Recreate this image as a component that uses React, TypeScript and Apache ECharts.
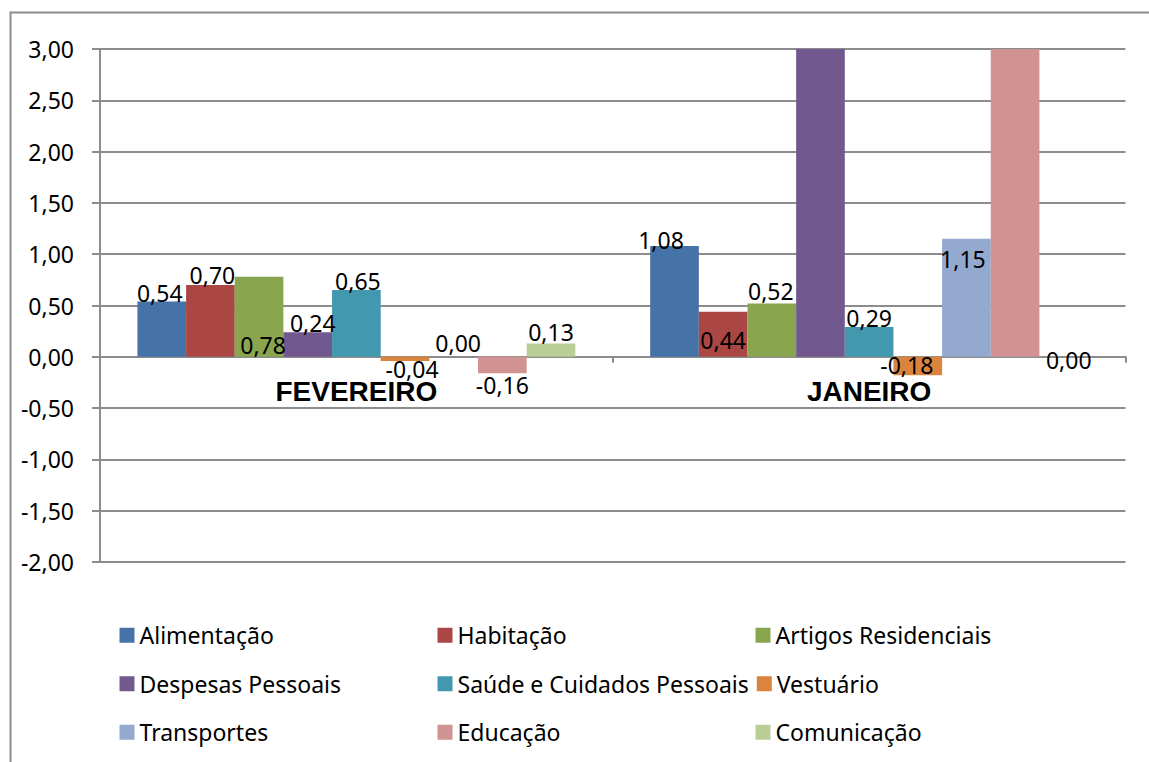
import React, { useEffect, useRef } from "react";
import * as echarts from "echarts";

const categories = ["FEVEREIRO", "JANEIRO"];
const seriesNames = [
  "Alimentação",
  "Habitação",
  "Artigos Residenciais",
  "Despesas Pessoais",
  "Saúde e Cuidados Pessoais",
  "Vestuário",
  "Transportes",
  "Educação",
  "Comunicação",
];
const alimentacao = [0.54, 1.08];
const habitacao = [0.7, 0.44];
const artigosResidenciais = [0.78, 0.52];
const despesasPessoais = [0.24, 3.6];
const saudeCuidados = [0.65, 0.29];
const vestuario = [-0.04, -0.18];
const transportes = [0.0, 1.15];
const educacao = [-0.16, 3.9];
const comunicacao = [0.13, 0.0];
const seriesValues = [
  alimentacao,
  habitacao,
  artigosResidenciais,
  despesasPessoais,
  saudeCuidados,
  vestuario,
  transportes,
  educacao,
  comunicacao,
];
const yMin = -2;
const yMax = 3;
const yInterval = 0.5;

const colors = [
  "#4572A7",
  "#AA4643",
  "#89A54E",
  "#71588F",
  "#4198AF",
  "#DB843D",
  "#93A9CF",
  "#D19392",
  "#B9CD96",
];

// label placement per series: [FEVEREIRO, JANEIRO] -> [position, distance, dx, dy]
type LP = [string, number, number, number] | null;
const labelPlacement: LP[][] = [
  [["top", 0.5, -2, 0], ["top", -2, -13.5, 0]],
  [["top", 1.5, 2, 0], ["insideBottom", 8.5, 0, 0]],
  [["insideBottom", 3.5, 4, 0], ["top", 4.5, -1, 0]],
  [["top", 1.5, 5, 0], null],
  [["top", 1.5, 1.5, 0], ["top", 1.5, 0, 0]],
  [["bottom", 0.5, 7, 0], ["insideTop", 0.5, -11, 0]],
  [["top", 5.5, 4.5, 0], ["insideTop", 12.5, -3.5, 0]],
  [["bottom", 4, 0, 0], null],
  [["top", 3.5, 0, 0], ["inside", 0, 5, 3]],
];

const fmt = (v: number) => v.toFixed(2).replace(".", ",");
const FONT = "Noto Sans";
const GRAY = "#8c8c8c";

const GRID = { left: 100, right: 23.5, top: 49, bottom: 200 };
const CHART_H = 762;

export default function App() {
  const ref = useRef<HTMLDivElement>(null);
  useEffect(() => {
    if (!ref.current) return;
    const chart = echarts.init(ref.current, null, { renderer: "svg" });
    const gridH = CHART_H - GRID.top - GRID.bottom;
    const zeroOffset = -(gridH * (0 - yMin)) / (yMax - yMin);
    const series = seriesNames.map((name, si) => ({
      name,
      type: "bar",
      barGap: "0%",
      barCategoryGap: "14.6%",
      itemStyle: { color: colors[si] },
      data: seriesValues[si].map((v, ci) => {
        const lp = labelPlacement[si][ci];
        const visible = lp !== null && v <= yMax && v >= yMin;
        return {
          value: v,
          label: visible
            ? {
                show: true,
                position: lp![0],
                distance: lp![1],
                offset: [lp![2], lp![3]],
                formatter: (p: any) => fmt(p.value),
                fontFamily: FONT,
                fontSize: 23,
                lineHeight: 16,
                color: "#000",
              }
            : { show: false },
        };
      }),
    }));
    chart.setOption({
      animation: false,
      backgroundColor: "#fff",
      color: colors,
      grid: GRID,
      legend: {
        data: seriesNames,
        left: 119.5,
        top: 615,
        width: 960,
        padding: 0,
        itemWidth: 15,
        itemHeight: 15,
        itemGap: 8,
        icon: "rect",
        textStyle: {
          fontFamily: FONT,
          fontSize: 23,
          color: "#000",
          width: 290,
          lineHeight: 40.5,
        },
      },
      xAxis: {
        type: "category",
        data: categories,
        offset: zeroOffset,
        axisLine: { show: true, onZero: false, lineStyle: { color: GRAY, width: 2 } },
        axisTick: { show: true, length: 6, lineStyle: { color: GRAY, width: 2 } },
        axisLabel: {
          margin: 25,
          fontFamily: "Liberation Sans",
          fontWeight: "bold",
          fontSize: 28,
          lineHeight: 20,
          color: "#000",
        },
      },
      yAxis: {
        type: "value",
        min: yMin,
        max: yMax,
        interval: yInterval,
        axisLine: { show: true, lineStyle: { color: GRAY, width: 2 } },
        axisTick: { show: true, length: 8, lineStyle: { color: GRAY, width: 2 } },
        splitLine: { show: true, lineStyle: { color: GRAY, width: 2 } },
        axisLabel: {
          margin: 26,
          formatter: (v: number) => fmt(v),
          fontFamily: FONT,
          fontSize: 23,
          color: "#000",
        },
      },
      graphic: [
        {
          type: "rect",
          z: -10,
          silent: true,
          shape: { x: 10.5, y: 12.5, width: 1300, height: 900 },
          style: { fill: "none", stroke: GRAY, lineWidth: 2 },
        },
      ],
      series,
    });
    return () => chart.dispose();
  }, []);
  return (
    <div
      ref={ref}
      style={{ position: "fixed", left: 0, top: 0, width: 1149, height: 762 }}
    />
  );
}
